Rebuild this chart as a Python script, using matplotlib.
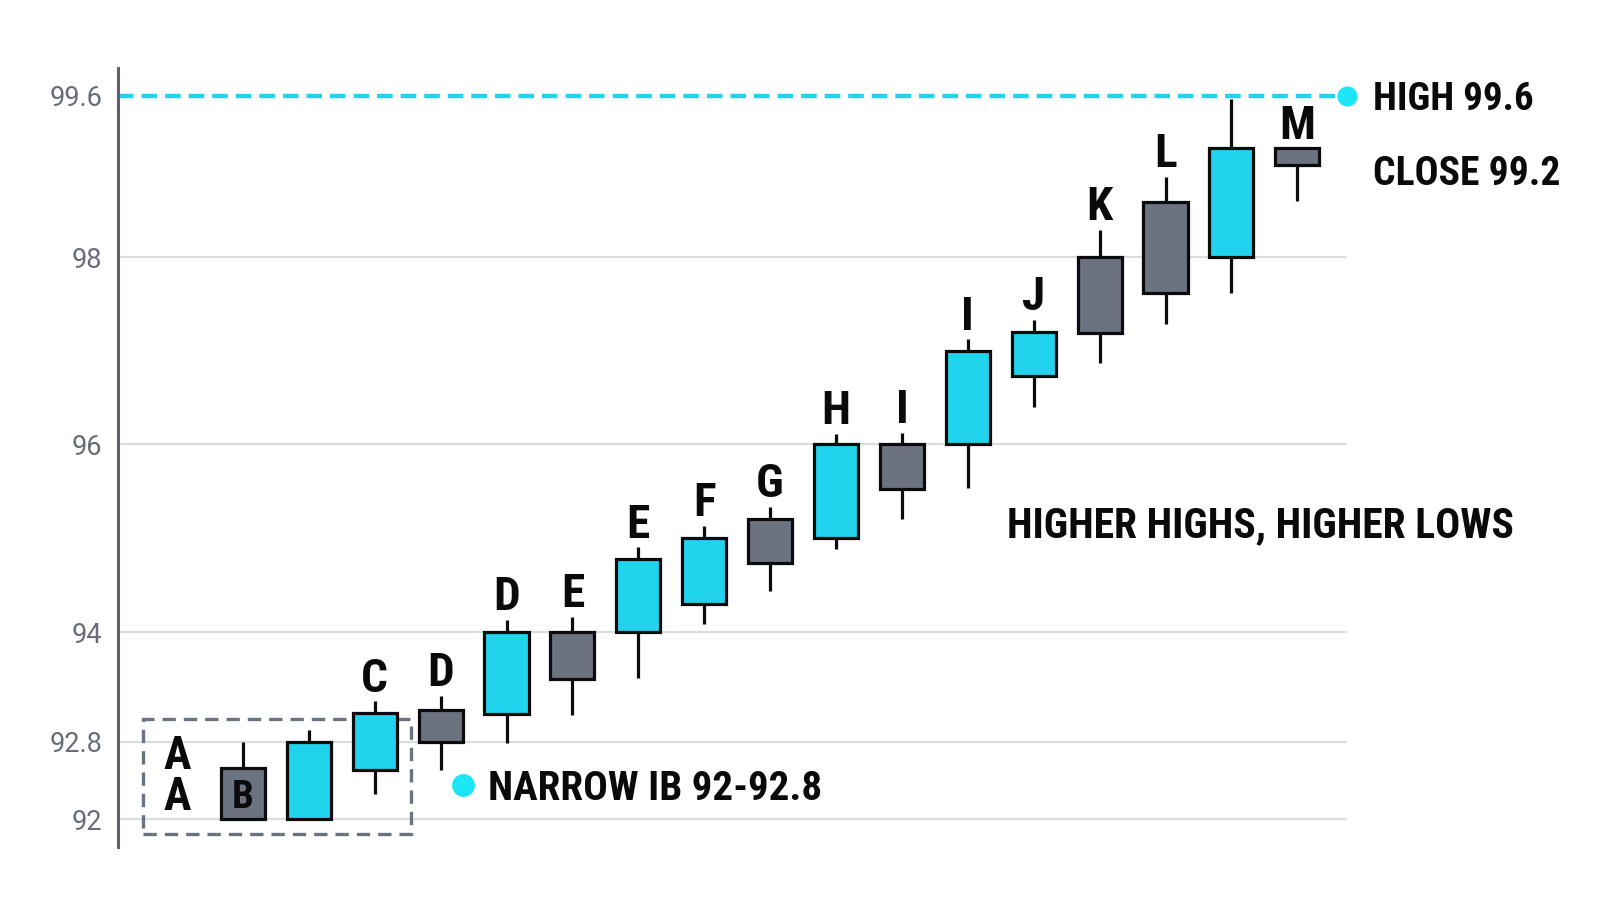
import numpy as np
import matplotlib
matplotlib.use("Agg")
import matplotlib.pyplot as plt
from matplotlib import font_manager
from matplotlib.patches import Rectangle

# ---------------- data ----------------
labels = ["A", "B", "", "C", "D", "D", "E", "E", "F", "G",
          "H", "I", "I", "J", "K", "L", "", "M"]
opens  = [np.nan, 92.53, 92.00, 92.51, 93.14, 93.10, 94.00, 94.00, 94.30, 95.20,
          95.00, 96.00, 96.00, 96.73, 98.00, 98.55, 98.00, 99.08]
highs  = [np.nan, 92.80, 92.93, 93.24, 93.30, 94.13, 94.16, 94.90, 95.13, 95.33,
          96.11, 96.12, 97.12, 97.33, 98.27, 98.80, 99.57, 99.08]
lows   = [np.nan, 92.00, 92.00, 92.26, 92.51, 92.78, 93.09, 93.50, 94.09, 94.44,
          94.88, 95.20, 95.53, 96.40, 96.87, 97.28, 97.61, 98.56]
closes = [np.nan, 92.00, 92.80, 93.11, 92.80, 94.00, 93.49, 94.78, 95.00, 94.73,
          96.00, 95.52, 97.00, 97.20, 97.19, 97.61, 99.08, 98.91]
y_ticks = [92, 92.8, 94, 96, 98, 99.6]
y_tick_labels = ["92", "92.8", "94", "96", "98", "99.6"]
high_level = 99.6
close_label = 99.2
ib_range = (92.0, 92.8)

# ---------------- style ----------------
CYAN = "#22D3EE"
GRAY = "#6B7280"
DOT = "#1DE6F4"
EDGE = "#0b0b0b"
TICKC = "#666C78"
SPINE = "#5B6069"
GRID = "#DADCDF"
TXT = "#0a0a0a"

names = {f.name for f in font_manager.fontManager.ttflist}
def pick(cands):
    for c in cands:
        if c in names:
            return c
    return "DejaVu Sans"
BOLD = pick(["Roboto Condensed", "Liberation Sans Narrow", "DejaVu Sans Condensed", "DejaVu Sans"])
REG = pick(["Roboto", "Roboto Condensed", "Liberation Sans", "DejaVu Sans"])

W, H = 1600, 914
fig = plt.figure(figsize=(16, 9.14), dpi=100)
fig.patch.set_facecolor("white")

def px(x, y):
    return x / W, 1 - y / H

ax_l, ax_r, ax_t, ax_b = 118, 1347, 68, 847
ax = fig.add_axes([ax_l / W, 1 - ax_b / H, (ax_r - ax_l) / W, (ax_b - ax_t) / H])

# piecewise-linear value axis (tick spacing as drawn in the reference)
TV = np.array(y_ticks, float)
TP = np.array([0, 77.5, 187, 375, 562, 723], float)
s_lo = (TP[1] - TP[0]) / (TV[1] - TV[0])
s_hi = (TP[-1] - TP[-2]) / (TV[-1] - TV[-2])

def _fwd(v):
    v = np.asarray(v, float)
    out = np.interp(v, TV, TP)
    out = np.where(v < TV[0], TP[0] + (v - TV[0]) * s_lo, out)
    out = np.where(v > TV[-1], TP[-1] + (v - TV[-1]) * s_hi, out)
    return out

def _inv(p):
    p = np.asarray(p, float)
    out = np.interp(p, TP, TV)
    out = np.where(p < TP[0], TV[0] + (p - TP[0]) / s_lo, out)
    out = np.where(p > TP[-1], TV[-1] + (p - TP[-1]) / s_hi, out)
    return out

ax.set_yscale("function", functions=(_fwd, _inv))
ax.set_ylim(float(_inv(819 - ax_b)), float(_inv(819 - ax_t)))
x0, step = 177, 65.9
ax.set_xlim((ax_l - x0) / step, (ax_r - x0) / step)

ax.set_yticks(y_ticks, labels=y_tick_labels)
ax.yaxis.set_minor_locator(matplotlib.ticker.NullLocator())
ax.tick_params(axis="y", length=0, pad=11.5, labelsize=19.5, labelcolor=TICKC)
for t in ax.get_yticklabels():
    t.set_fontfamily(REG)
ax.set_xticks([])
for s in ["top", "right", "bottom"]:
    ax.spines[s].set_visible(False)
ax.spines["left"].set_color(SPINE)
ax.spines["left"].set_linewidth(2.2)

# gridlines (the top level is drawn as the dashed high line)
for yt in y_ticks:
    if yt != high_level:
        ax.axhline(yt, color=GRID, lw=1.6, zorder=0)

# high line
ax.axhline(high_level, color=CYAN, lw=3.2, dashes=(3.5, 1.8), zorder=1)
ax.scatter([ax.get_xlim()[1]], [high_level], s=210, color=DOT, zorder=5, clip_on=False, linewidths=0)

# candles
x = np.arange(len(labels))
o = np.array(opens); c = np.array(closes); hi = np.array(highs); lo = np.array(lows)
valid = ~np.isnan(o)
ax.vlines(x[valid], lo[valid], hi[valid], color=EDGE, lw=2.3, zorder=2)
cols = [CYAN if cc >= oo else GRAY for oo, cc in zip(o[valid], c[valid])]
ax.bar(x[valid], np.abs(c[valid] - o[valid]), bottom=np.minimum(o[valid], c[valid]),
       width=0.67, color=cols, edgecolor=EDGE, linewidth=2.3, zorder=3)

# letters
for i, lab in enumerate(labels):
    if i == 0:
        for ypx in (751, 792):
            ax.text(0, float(_inv(819 - ypx)), lab, ha="center", va="center_baseline",
                    fontsize=33, fontweight="bold", family=BOLD, color=TXT, zorder=4)
    elif i == 1:
        ax.text(i, (o[i] + c[i]) / 2, lab, ha="center", va="center_baseline",
                fontsize=28, fontweight="bold", family=BOLD, color=TXT, zorder=4)
    elif lab:
        ax.annotate(lab, xy=(i, hi[i]), xytext=(0, 19.5), textcoords="offset points",
                    ha="center", va="center_baseline", fontsize=34, fontweight="bold",
                    family=BOLD, color=TXT, zorder=4)

# initial balance box
ax.add_patch(Rectangle((-0.52, 91.85), 4.07, 93.05 - 91.85, fill=False,
                       edgecolor=GRAY, lw=2.4, linestyle=(0, (4, 2.4)), zorder=1, clip_on=False))

# annotations
fig.text(*px(1373, 96), f"HIGH {high_level}", ha="left", va="center_baseline",
         fontsize=28, fontweight="bold", family=BOLD, color=TXT)
fig.text(*px(1373, 170), f"CLOSE {close_label}", ha="left", va="center_baseline",
         fontsize=28.5, fontweight="bold", family=BOLD, color=TXT)
fig.text(*px(1007, 521), "HIGHER HIGHS, HIGHER LOWS", ha="left", va="center_baseline",
         fontsize=30, fontweight="bold", family=BOLD, color=TXT)
fig.text(*px(488, 785), f"NARROW IB {ib_range[0]:g}-{ib_range[1]:g}", ha="left", va="center_baseline",
         fontsize=29.5, fontweight="bold", family=BOLD, color=TXT)
dax = fig.add_axes([0, 0, 1, 1], facecolor="none")
dax.set_xlim(0, W); dax.set_ylim(H, 0); dax.axis("off")
dax.scatter([463], [785], s=270, color=DOT, linewidths=0)

fig.savefig("out.png", dpi=100, facecolor="white")
